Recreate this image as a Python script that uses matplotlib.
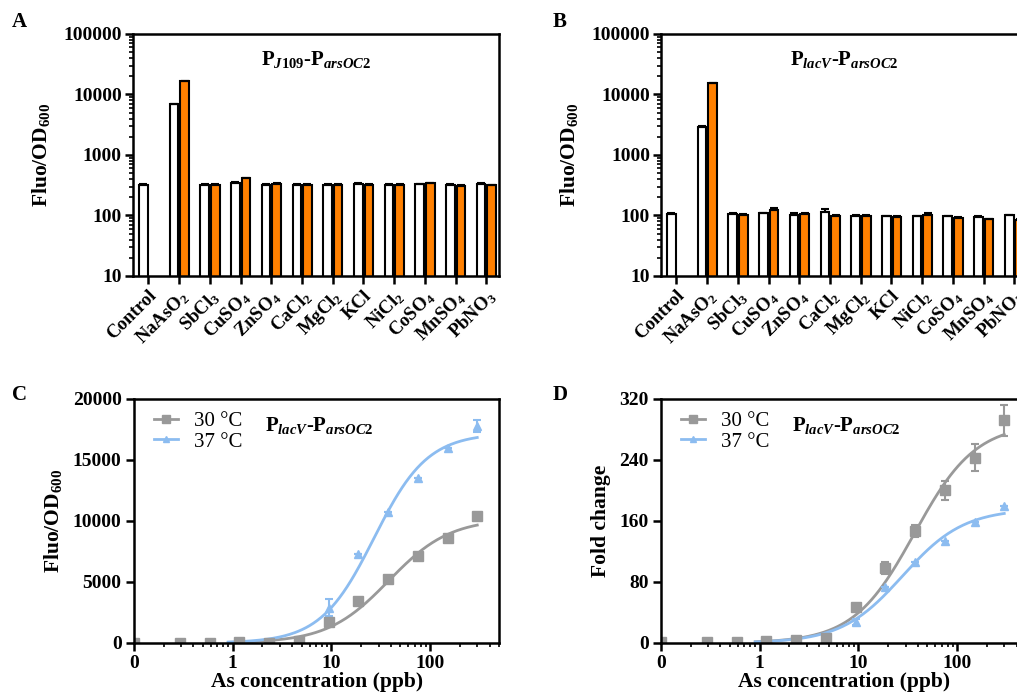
import numpy as np
import matplotlib
matplotlib.use('Agg')
import matplotlib.pyplot as plt
from matplotlib.lines import Line2D
from matplotlib.ticker import FixedLocator, FuncFormatter, LogLocator, NullFormatter

plt.rcParams.update({
    'font.family': 'Liberation Serif',
    'font.weight': 'bold',
    'axes.labelweight': 'bold',
    'mathtext.fontset': 'custom',
    'mathtext.rm': 'Liberation Serif:bold',
    'mathtext.bf': 'Liberation Serif:bold',
    'mathtext.it': 'Liberation Serif:italic:bold',
    'axes.linewidth': 1.8,
})

# ---- data: panels A and B (metal specificity) ----
metals = ['Control', 'NaAsO$_2$', 'SbCl$_3$', 'CuSO$_4$', 'ZnSO$_4$', 'CaCl$_2$',
          'MgCl$_2$', 'KCl', 'NiCl$_2$', 'CoSO$_4$', 'MnSO$_4$', 'PbNO$_3$']
a_white = [320, 6900, 320, 345, 325, 325, 320, 330, 325, 328, 320, 330]
a_white_err = [8, 150, 8, 15, 8, 8, 8, 8, 8, 8, 8, 8]
a_orange = [16600, 320, 410, 330, 320, 318, 318, 318, 340, 310, 315]  # no Control
a_orange_err = [300, 8, 10, 8, 8, 8, 8, 8, 8, 8, 8]

b_white = [105, 2950, 105, 108, 103, 113, 98, 97, 97, 97, 96, 100]
b_white_err = [4, 100, 5, 4, 8, 15, 2, 2, 2, 2, 2, 3]
b_orange = [15500, 103, 125, 107, 97, 97, 95, 100, 91, 87, 84]
b_orange_err = [200, 4, 6, 4, 3, 3, 2, 12, 2, 2, 2]

# ---- data: panels C and D (dose response) ----
conc = [0, 0.29, 0.59, 1.17, 2.34, 4.69, 9.375, 18.75, 37.5, 75, 150, 300]
c30 = [0, 0, 0, 50, 40, 180, 1730, 3460, 5270, 7160, 8640, 10370]
c30_err = [0, 0, 0, 0, 0, 0, 0, 0, 0, 0, 0, 0]
c37 = [0, 0, 0, 60, 80, 150, 2900, 7300, 10700, 13500, 16000, 17800]
c37_err = [0, 0, 0, 0, 0, 0, 700, 0, 0, 0, 0, 500]
d30 = [1, 1, 1, 3, 4, 7, 47, 98, 147, 200, 243, 292]
d30_err = [0, 0, 0, 0, 0, 0, 3, 8, 8, 13, 18, 20]
d37 = [1, 1, 1, 2, 3, 3, 28, 73, 106, 134, 159, 179]
d37_err = [0, 0, 0, 0, 0, 0, 4, 0, 0, 0, 0, 0]

# fitted dose-response parameters (top, EC50, Hill slope)
c30_fit = (10200, 38, 1.4)
c37_fit = (17200, 27, 1.6)
d30_fit = (288, 37, 1.4)
d37_fit = (176, 28, 1.4)

orange = '#ff8000'
gray = '#999999'
blue = '#8cbcf0'

fig = plt.figure(figsize=(10.17, 6.98), dpi=100)
axA = fig.add_axes([0.1308, 0.6046, 0.36, 0.3467])
axB = fig.add_axes([0.650, 0.6046, 0.36, 0.3467])
axC = fig.add_axes([0.1318, 0.0788, 0.359, 0.3496])
axD = fig.add_axes([0.650, 0.0788, 0.359, 0.3496])


def bar_panel(ax, white, werr, orng, oerr, title):
    x = np.arange(len(metals))
    ax.bar(x - 0.165, white, 0.28, color='white', edgecolor='black', linewidth=1.5, log=True)
    ax.bar(x[1:] + 0.18, orng, 0.28, color=orange, edgecolor='black', linewidth=1.5, log=True)
    ax.errorbar(x - 0.165, white, yerr=[np.zeros(len(white)), werr], fmt='none',
                ecolor='black', elinewidth=1.5, capsize=3, capthick=1.5)
    ax.errorbar(x[1:] + 0.18, orng, yerr=[np.zeros(len(orng)), oerr], fmt='none',
                ecolor='black', elinewidth=1.5, capsize=3, capthick=1.5)
    ax.set_yscale('log')
    ax.set_ylim(10, 100000)
    ax.set_xlim(-0.5, 11.42)
    ax.set_xticks(x)
    ax.set_xticklabels(metals, rotation=45, ha='right', rotation_mode='anchor', fontsize=13.5)
    ax.yaxis.set_major_formatter(FuncFormatter(lambda v, p: '%d' % round(v)))
    ax.yaxis.set_minor_locator(LogLocator(base=10, subs=np.arange(2, 10)))
    ax.yaxis.set_minor_formatter(NullFormatter())
    ax.tick_params(axis='y', which='major', labelsize=14, length=6, width=1.8, pad=2)
    ax.tick_params(axis='y', which='minor', length=3, width=1.2)
    ax.tick_params(axis='x', length=6, width=1.8, pad=2)
    ax.set_ylabel('Fluo/OD$_{600}$', fontsize=15.5, labelpad=8)
    ax.text(0.5, 0.94, title, transform=ax.transAxes, ha='center', va='top', fontsize=15)


bar_panel(axA, a_white, a_white_err, a_orange, a_orange_err, 'P$_{\\mathit{J109}}$-P$_{\\mathit{arsOC2}}$')
bar_panel(axB, b_white, b_white_err, b_orange, b_orange_err, 'P$_{\\mathit{lacV}}$-P$_{\\mathit{arsOC2}}$')


def dose_panel(ax, y30, e30, f30, y37, e37, f37, ylim, yticks, ylabel):
    xs = [0.1 if c == 0 else c for c in conc]
    xfit = np.logspace(np.log10(0.9), np.log10(300), 200)
    for fit, col in ((f30, gray), (f37, blue)):
        top, ec50, n = fit
        ax.plot(xfit, top / (1 + (ec50 / xfit) ** n), color=col, lw=2)
    ax.errorbar(xs, y37, yerr=e37, fmt='^', color=blue, ms=6, capsize=3, elinewidth=1.5, capthick=1.5)
    ax.errorbar(xs, y30, yerr=e30, fmt='s', color=gray, ms=6.5, capsize=3, elinewidth=1.5, capthick=1.5)
    ax.set_xscale('log')
    ax.set_xlim(0.1, 500)
    ax.set_ylim(*ylim)
    ax.set_yticks(yticks)
    ax.xaxis.set_major_locator(FixedLocator([0.1, 1, 10, 100]))
    ax.xaxis.set_major_formatter(FuncFormatter(lambda v, p: '0' if v < 0.5 else '%d' % round(v)))
    ax.xaxis.set_minor_locator(LogLocator(base=10, subs=np.arange(2, 10)))
    ax.xaxis.set_minor_formatter(NullFormatter())
    ax.tick_params(which='major', labelsize=14, length=6, width=1.8, pad=3)
    ax.tick_params(which='minor', length=3, width=1.2)
    ax.set_xlabel('As concentration (ppb)', fontsize=15.5, labelpad=0)
    ax.set_ylabel(ylabel, fontsize=15.5, labelpad=6)
    handles = [Line2D([], [], color=gray, marker='s', ms=6, lw=2),
               Line2D([], [], color=blue, marker='^', ms=5, lw=2)]
    ax.legend(handles, ['30 °C', '37 °C'], loc='upper left', frameon=False,
              prop={'family': 'Liberation Serif', 'weight': 'normal', 'size': 15},
              handlelength=1.15, borderaxespad=0.2, labelspacing=0.05, handletextpad=0.8,
              bbox_to_anchor=(0.02, 1.0))
    ax.text(0.36, 0.935, 'P$_{\\mathit{lacV}}$-P$_{\\mathit{arsOC2}}$', transform=ax.transAxes,
            ha='left', va='top', fontsize=15)


dose_panel(axC, c30, c30_err, c30_fit, c37, c37_err, c37_fit, (0, 20000),
           [0, 5000, 10000, 15000, 20000], 'Fluo/OD$_{600}$')
dose_panel(axD, d30, d30_err, d30_fit, d37, d37_err, d37_fit, (0, 320),
           [0, 80, 160, 240, 320], 'Fold change')

for lbl, (px, py) in zip('ABCD', [(12, 22), (553, 22), (12, 395), (553, 395)]):
    fig.text(px / 1017, 1 - py / 698, lbl, fontsize=15, ha='left', va='center')

fig.savefig('out.png', dpi=100)
